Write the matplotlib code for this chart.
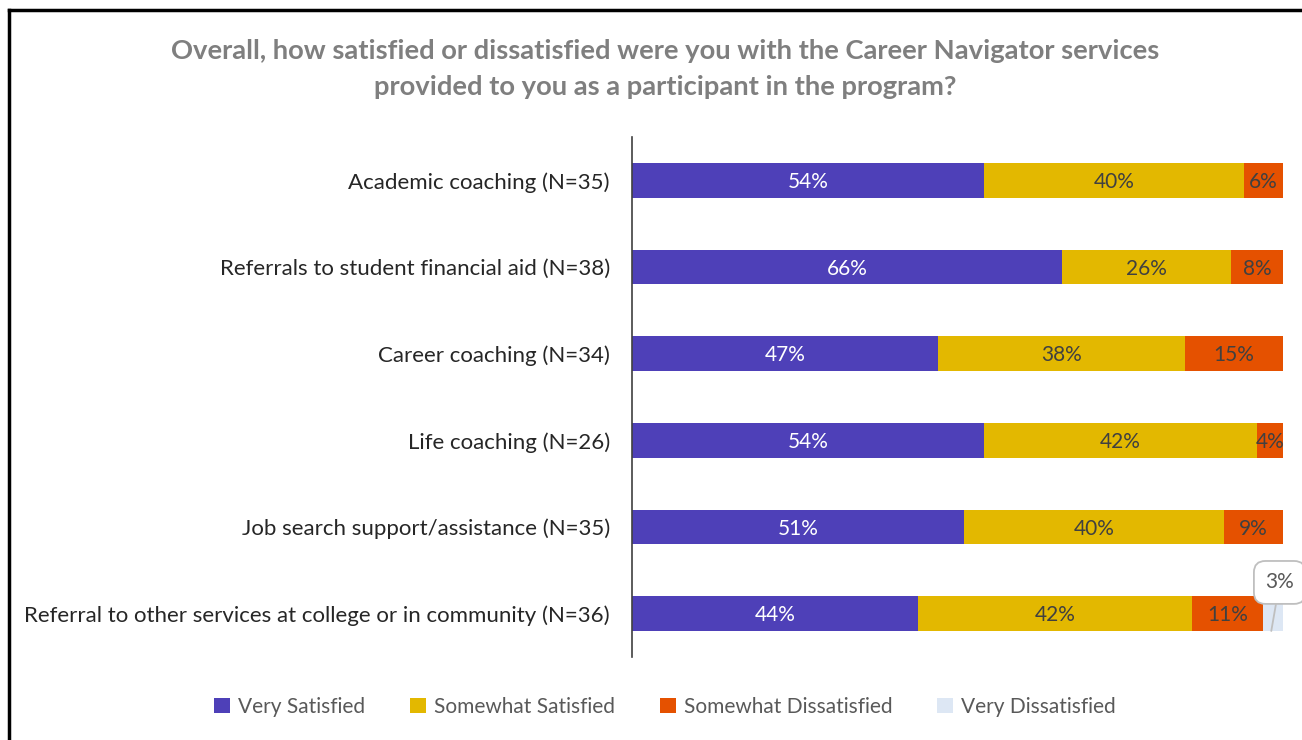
import numpy as np
from matplotlib import pyplot as plt
from matplotlib.lines import Line2D

plt.rcParams['font.family'] = ['Lato', 'DejaVu Sans']

categories = [
    'Academic coaching (N=35)',
    'Referrals to student financial aid (N=38)',
    'Career coaching (N=34)',
    'Life coaching (N=26)',
    'Job search support/assistance (N=35)',
    'Referral to other services at college or in community (N=36)',
]
series_names = ['Very Satisfied', 'Somewhat Satisfied',
                'Somewhat Dissatisfied', 'Very Dissatisfied']
very_satisfied = [54, 66, 47, 54, 51, 44]
somewhat_satisfied = [40, 26, 38, 42, 40, 42]
somewhat_dissatisfied = [6, 8, 15, 4, 9, 11]
very_dissatisfied = [0, 0, 0, 0, 0, 3]

colors = ['#4E40B8', '#E3B800', '#E55100', '#DDE7F4']
text_colors = ['white', '#404040', '#404040', '#595959']

fig = plt.figure(figsize=(13.02, 7.40), dpi=100)
ax = fig.add_axes([0.4854, 0.1122, 0.5, 0.7027])

y = np.arange(len(categories))
left = np.zeros(len(categories))
series = [very_satisfied, somewhat_satisfied, somewhat_dissatisfied, very_dissatisfied]

for k, (vals, name) in enumerate(zip(series, series_names)):
    vals = np.array(vals, dtype=float)
    ax.barh(y, vals, 0.40, left=left, color=colors[k], label=name)
    for i, v in enumerate(vals):
        if v <= 0:
            continue
        if k == 3:
            # small slice gets a callout above the bar
            ax.annotate(f'{v:.0f}%', xy=(left[i] + v / 2 - 0.3, y[i] + 0.2),
                        xytext=(left[i] + v / 2 + 1.0, y[i] - 0.36),
                        ha='center', va='center', fontsize=15, color='#595959',
                        bbox=dict(boxstyle='round,pad=0.55', fc='white', ec='#BFBFBF', lw=1.3),
                        arrowprops=dict(arrowstyle='-', color='#BFBFBF', lw=1.3,
                                        shrinkA=0, shrinkB=0), annotation_clip=False)
        else:
            ax.text(left[i] + v / 2, y[i] + 0.02, f'{v:.0f}%', ha='center', va='center',
                    fontsize=15, color=text_colors[k])
    left += vals

ax.set_xlim(0, 100)
ax.set_ylim(len(categories) - 0.5, -0.5)
ax.set_yticks(y)
ax.set_yticklabels(categories, fontsize=16, color='#262626')
ax.set_xticks([])
ax.tick_params(axis='y', length=0, pad=16)

for s in ['top', 'bottom', 'right']:
    ax.spines[s].set_visible(False)
ax.spines['left'].set_color('#404040')
ax.spines['left'].set_linewidth(1.2)

fig.text(0.511, 0.907, 'Overall, how satisfied or dissatisfied were you with the Career Navigator services\n'
         'provided to you as a participant in the program?',
         ha='center', va='center', fontsize=19.7, fontweight='bold', color='#7F7F7F',
         linespacing=1.6)

handles, labels = ax.get_legend_handles_labels()
fig.legend(handles, labels, loc='center', bbox_to_anchor=(0.511, 0.045), ncol=4,
           frameon=False, fontsize=15, handlelength=0.75, handleheight=0.75,
           handletextpad=0.4, columnspacing=2.15, labelcolor='#595959')

# outer frame
fig.add_artist(Line2D([0.0068, 0.0068], [0, 0.986], transform=fig.transFigure,
                      color='black', lw=2.5))
fig.add_artist(Line2D([0.0068, 1.0], [0.986, 0.986], transform=fig.transFigure,
                      color='black', lw=2.5))

fig.savefig('out.png', dpi=100)
